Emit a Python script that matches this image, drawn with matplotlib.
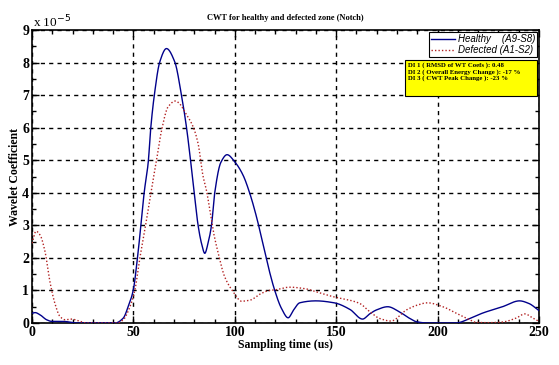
import numpy as np
import matplotlib
matplotlib.use("Agg")
import matplotlib.pyplot as plt
from matplotlib.ticker import MultipleLocator
from matplotlib.patches import Rectangle

# Values in units of 1e-5
healthy_t = [0, 1.5, 4, 7.2, 9.7, 15.4, 22, 30, 41, 45, 47.4, 49.9, 52, 53.7, 55.3, 57.3,
             58.6, 60.3, 63, 66.3, 70.4, 73.7, 76.2, 78.3, 80, 81.9, 83.6, 85.2, 86.8,
             88.5, 90.1, 93.1, 96.2, 100, 104, 107.4, 110.7, 114, 116.9, 119.7, 123, 126.3,
             129, 132, 140, 149, 156.7, 163, 166.5, 169.8, 175.4, 181, 186, 189.5, 195, 200,
             209, 215.7, 222, 232, 240.4, 245, 250]
healthy_v = [0.30, 0.32, 0.25, 0.10, 0.05, 0.05, 0.00, 0.00, 0.00, 0.15, 0.50, 1.00, 2.00, 3.00,
             4.00, 4.93, 6.02, 6.99, 8.02, 8.43, 8.02, 7.00, 6.00, 4.93, 4.00, 3.00, 2.44,
             2.14, 2.45, 3.00, 4.00, 4.93, 5.17, 4.95, 4.55, 3.98, 3.26, 2.40, 1.63, 1.00, 0.45,
             0.16, 0.40, 0.62, 0.68, 0.62, 0.42, 0.12, 0.28, 0.40, 0.50, 0.35, 0.15, 0.04, 0.00,
             0.00, 0.00, 0.13, 0.30, 0.50, 0.68, 0.60, 0.38]

defected_t = [0, 2, 4, 6.4, 8.9, 11.3, 13.8, 16.3, 19.5, 22.8, 26.9, 35, 42, 45, 48.3, 50.7,
              53.2, 56, 58.6, 61.4, 63.9, 67.1, 70.8, 73, 75.4, 79.5, 81.9, 84.4, 86, 87.7,
              89.3, 91.8, 95, 99.2, 103.3, 107.4, 113.1, 117, 120, 127, 135, 140, 149, 156.7,
              161.6, 166.5, 171.4, 177, 184.6, 190, 195, 202.6, 209.2, 215.8, 219, 225, 232,
              238.7, 243, 247, 250]
defected_v = [2.45, 2.82, 2.70, 2.20, 1.25, 0.60, 0.20, 0.10, 0.12, 0.07, 0.00, 0.00, 0.00,
              0.10, 0.50, 1.00, 2.00, 3.00, 4.00, 5.00, 5.92, 6.64, 6.82, 6.72, 6.48, 6.02,
              5.51, 4.49, 4.08, 3.47, 2.85, 2.15, 1.42, 0.96, 0.67, 0.70, 0.91, 1.00, 1.02,
              1.10, 1.05, 0.96, 0.80, 0.70, 0.60, 0.35, 0.14, 0.06, 0.40, 0.55, 0.62, 0.50,
              0.30, 0.10, 0.02, 0.01, 0.03, 0.15, 0.28, 0.15, 0.05]

legend_labels = ["Healthy    (A9-S8)", "Defected (A1-S2)"]
info_lines = ["DI 1 ( RMSD of WT Coefs ): 0.48",
              "DI 2 ( Overall Energy Change ): -17 %",
              "DI 3 ( CWT Peak Change ): -23 %"]
title = "CWT for healthy and defected zone (Notch)"
xlabel = "Sampling time (us)"
ylabel = "Wavelet Coefficient"

serif = "Liberation Serif"
sans = "Liberation Sans"

fig = plt.figure(figsize=(5.59, 3.65), dpi=100)
ax = fig.add_axes([32/559, 1-323/365, (539-32)/559, (323-30)/365])

def smooth(t, v, n=1500):
    t = np.asarray(t, float); v = np.asarray(v, float)
    tt = np.linspace(t[0], t[-1], n)
    h = np.diff(t); d = np.diff(v) / h
    m = np.zeros_like(v)
    for i in range(1, len(v)-1):
        if d[i-1]*d[i] > 0:
            w1 = 2*h[i] + h[i-1]; w2 = h[i] + 2*h[i-1]
            m[i] = (w1 + w2) / (w1/d[i-1] + w2/d[i])
    m[0] = d[0]; m[-1] = d[-1]
    idx = np.clip(np.searchsorted(t, tt) - 1, 0, len(h)-1)
    s = (tt - t[idx]) / h[idx]
    h00 = 2*s**3 - 3*s**2 + 1; h10 = s**3 - 2*s**2 + s
    h01 = -2*s**3 + 3*s**2; h11 = s**3 - s**2
    y = h00*v[idx] + h10*h[idx]*m[idx] + h01*v[idx+1] + h11*h[idx]*m[idx+1]
    return tt, y

ht, hv = smooth(healthy_t, healthy_v)
dt_, dv = smooth(defected_t, defected_v)
ax.plot(ht, hv, color="#00008B", lw=1.0, label=legend_labels[0], zorder=3)
ax.plot(dt_, dv, color="#B22222", lw=1.0, ls=(0, (1, 1.5)), label=legend_labels[1], zorder=3)

ax.set_xlim(0, 250)
ax.set_ylim(0, 9)
ax.xaxis.set_major_locator(MultipleLocator(50))
ax.xaxis.set_minor_locator(MultipleLocator(10))
ax.yaxis.set_major_locator(MultipleLocator(1))
ax.yaxis.set_minor_locator(MultipleLocator(0.5))
ax.tick_params(which="both", direction="in", top=True, right=True, pad=2)
ax.tick_params(which="major", length=5, width=1)
ax.tick_params(which="minor", length=3, width=1)
ax.grid(True, which="major", color="black", ls=(0, (3, 3)), lw=1)
for sp in ax.spines.values():
    sp.set_linewidth(1.2)

for lab in ax.get_xticklabels() + ax.get_yticklabels():
    lab.set_fontfamily(serif); lab.set_fontweight("bold"); lab.set_fontsize(10)

ax.set_xlabel(xlabel, fontfamily=serif, fontweight="bold", fontsize=8.5, labelpad=0)
ax.set_ylabel(ylabel, fontfamily=serif, fontweight="bold", fontsize=8.5, labelpad=1)
fig.text(285/559, 1-18/365, title, ha="center", va="center",
         fontfamily=serif, fontweight="bold", fontsize=6)
fig.text(33/559, 1-22/365, r"x 10$^{-5}$", ha="left", va="center",
         fontfamily=serif, fontsize=9.5)

leg = ax.legend(loc="upper right", bbox_to_anchor=(1.0 - 2/507, 1.0 - 2/293),
                prop={"family": sans, "style": "italic", "size": 7},
                fancybox=False, edgecolor="black", framealpha=1,
                handlelength=2.4, handletextpad=0.3, borderpad=0.2,
                labelspacing=0.1, borderaxespad=0)
leg.get_frame().set_linewidth(0.8)

ax.add_patch(Rectangle(((405-32)/507*250, (323-96.3)/293*9), (536.7-405)/507*250,
                       (96.3-59.7)/293*9, facecolor="yellow", edgecolor="black",
                       lw=0.8, zorder=4))
ax.text((408-32)/507, (323-62.5)/293, "\n".join(info_lines), transform=ax.transAxes,
        ha="left", va="top", fontfamily=serif, fontweight="bold", fontsize=4.9,
        linespacing=1.15, zorder=5)

fig.savefig("out.png", dpi=100)
